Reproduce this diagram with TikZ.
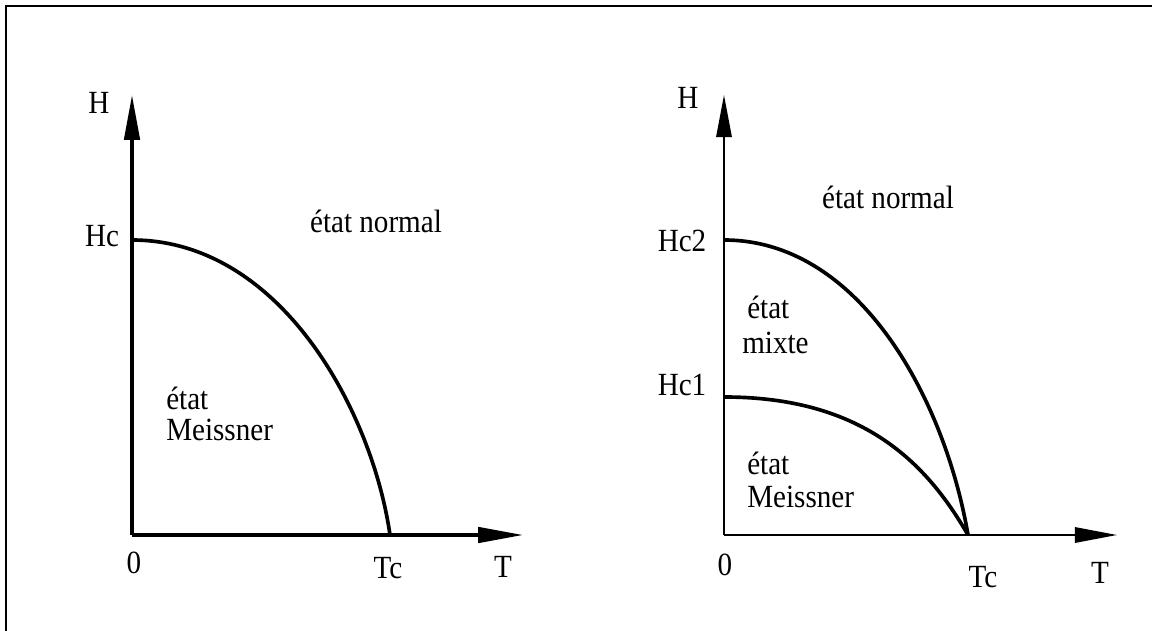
\documentclass[tikz,border=0pt]{standalone}
\usepackage{fontspec}
\setmainfont[FakeStretch=0.9]{Liberation Serif}
\usetikzlibrary{arrows.meta}

\begin{document}
\begin{tikzpicture}[
    x=0.025cm, y=-0.025cm,
    lbl/.style={inner sep=0pt, font=\fontsize{23}{26}\selectfont},
    axis/.style={-{Triangle[length=32pt, width=11pt]}, line width=2.4pt},
    axisthin/.style={-{Triangle[length=30pt, width=11pt]}, line width=1.3pt},
    curve/.style={line width=2.6pt},
]

% cadre
\useasboundingbox (0,0) rectangle (1152,631);
\draw[line width=2pt] (6,631) -- (6,6) -- (1152,6);

% diagramme de gauche
\coordinate (o1) at (132,535);
\coordinate (h1) at (132,95);
\coordinate (t1) at (523,535);
\coordinate (hc) at (132,240);
\coordinate (tc1) at (390,535);

\draw[axis] (o1) -- (h1);
\draw[axis] (o1) -- (t1);
\draw[curve] (hc) .. controls (280,240) and (372,410) .. (tc1);

\node[lbl] (labH1)  at (99,103)  {H};
\node[lbl] (labHc)  at (102,236) {Hc};
\node[lbl] (lab01)  at (134,563) {0};
\node[lbl] (labTc1) at (388,568) {Tc};
\node[lbl] (labT1)  at (503,567) {T};
\node[lbl] (norm1)  at (376,221) {état normal};
\node[lbl, anchor=west] (meis1a) at (166,398) {état};
\node[lbl, anchor=west] (meis1b) at (166,430) {Meissner};

% diagramme de droite
\coordinate (o2) at (724,535);
\coordinate (h2) at (724,95);
\coordinate (t2) at (1117,535);
\coordinate (hcd) at (724,240);
\coordinate (hcu) at (724,397);
\coordinate (tc2) at (968,535);

\draw[axisthin] (o2) -- (h2);
\draw[axisthin] (o2) -- (t2);
\draw[curve] (hcd) .. controls (860,240) and (945,400) .. (tc2);
\draw[curve] (hcu) .. controls (860,397) and (925,460) .. (tc2);

\node[lbl] (labH2)   at (688,98)  {H};
\node[lbl] (labHc2)  at (682,241) {Hc2};
\node[lbl] (labHc1)  at (682,385) {Hc1};
\node[lbl] (lab02)   at (725,565) {0};
\node[lbl] (labTc2)  at (983,577) {Tc};
\node[lbl] (labT2)   at (1100,573) {T};
\node[lbl] (norm2)   at (888,197) {état normal};
\node[lbl, anchor=west] (mixa)  at (747,307) {état};
\node[lbl, anchor=west] (mixb)  at (742,343) {mixte};
\node[lbl, anchor=west] (meis2a) at (747,463) {état};
\node[lbl, anchor=west] (meis2b) at (747,497) {Meissner};

\end{tikzpicture}
\end{document}
